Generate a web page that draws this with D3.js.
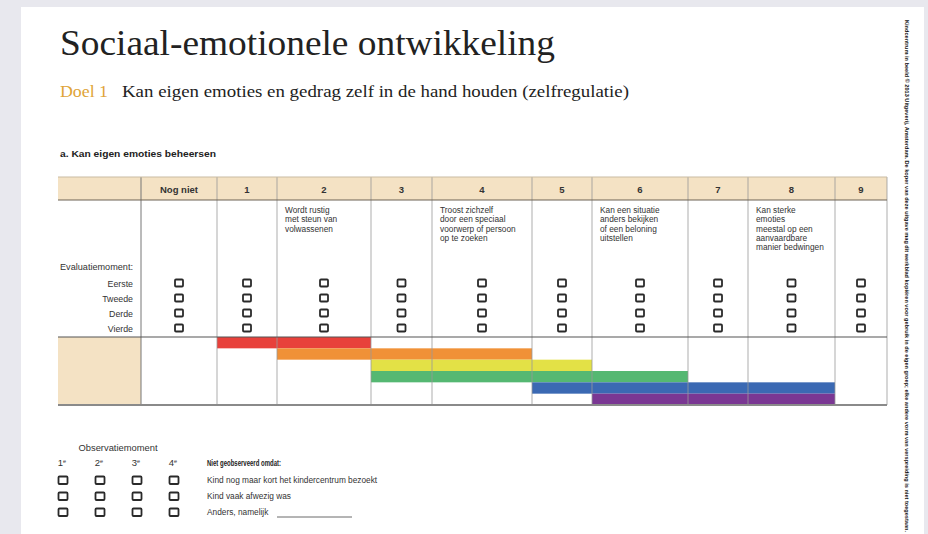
<!DOCTYPE html>
<html>
<head>
<meta charset="utf-8">
<script src="https://cdn.jsdelivr.net/npm/d3@7"></script>
<style>
  body { margin: 0; background: #e8e8ee; }
  svg { display: block; }
</style>
</head>
<body>
<div class="center"></div>
<script>
// chart data
const title = "Sociaal-emotionele ontwikkeling";
const goalLabel = "Doel 1";
const goalText = "Kan eigen emoties en gedrag zelf in de hand houden (zelfregulatie)";
const sectionLabel = "a. Kan eigen emoties beheersen";

const stages = ["Nog niet", "1", "2", "3", "4", "5", "6", "7", "8", "9"];
const descriptions = [
  [], [],
  ["Wordt rustig", "met steun van", "volwassenen"],
  [],
  ["Troost zichzelf", "door een speciaal", "voorwerp of persoon", "op te zoeken"],
  [],
  ["Kan een situatie", "anders bekijken", "of een beloning", "uitstellen"],
  [],
  ["Kan sterke", "emoties", "meestal op een", "aanvaardbare", "manier bedwingen"],
  []
];
const moments = ["Eerste", "Tweede", "Derde", "Vierde"];

// coloured range bars: first and last stage (inclusive)
const barStart = [1, 2, 3, 3, 5, 6];
const barEnd   = [2, 4, 5, 6, 8, 8];
const barColors = ["#e8413b", "#f09137", "#e3e146", "#55b872", "#3b69b3", "#7a3793"];

const obsMoments = ["1", "2", "3", "4"];
const reasons = ["Kind nog maar kort het kindercentrum bezoekt", "Kind vaak afwezig was", "Anders, namelijk"];

const sideNote = "Kindcentrum in beeld \u00a9 2013 Uitgeverij, Amsterdam. De koper van deze uitgave mag dit werkblad kopi\u00ebren voor gebruik in de eigen groep; elke andere vorm van verspreiding is niet toegestaan.";

// layout
const W = 928, H = 534;
const colEdges = [58, 141, 217, 277, 371, 432, 532, 592, 688, 748, 835, 887];
const headTop = 177, headBot = 200, bodyBot = 337, barBot = 405;
const narrow = "'Liberation Sans Narrow', 'Arial Narrow', 'Liberation Sans', sans-serif";
const serif = "'Liberation Serif', 'DejaVu Serif', serif";
const beige = "#f4e2c4";

// column edge index -1 .. 10 -> pixel
const xEdge = d3.scaleLinear()
  .domain(d3.range(-1, colEdges.length - 1))
  .range(colEdges);
const xMid = i => (xEdge(i) + xEdge(i + 1)) / 2;

const yMoment = d3.scalePoint().domain(moments).range([283, 328]);
const yLane = d3.scaleBand().domain(d3.range(barStart.length)).range([bodyBot, barBot]);

const svg = d3.select(".center").append("svg")
  .attr("width", W)
  .attr("height", H);

// page
svg.append("rect").attr("width", W).attr("height", H).attr("fill", "#e8e8ee");
svg.append("rect").attr("x", 21).attr("y", 7).attr("width", 903).attr("height", H - 7).attr("fill", "#fff");

// titles
svg.append("text")
  .attr("x", 60).attr("y", 55)
  .attr("textLength", 495).attr("lengthAdjust", "spacingAndGlyphs")
  .style("font-family", serif).style("font-size", "35px").style("fill", "#222")
  .text(title);

svg.append("text")
  .attr("x", 60).attr("y", 97)
  .attr("textLength", 48).attr("lengthAdjust", "spacingAndGlyphs")
  .style("font-family", serif).style("font-size", "17px").style("fill", "#e0a437")
  .text(goalLabel);

svg.append("text")
  .attr("x", 122).attr("y", 97)
  .attr("textLength", 507).attr("lengthAdjust", "spacingAndGlyphs")
  .style("font-family", serif).style("font-size", "17px").style("fill", "#222")
  .text(goalText);

svg.append("text")
  .attr("x", 60).attr("y", 157)
  .attr("textLength", 156).attr("lengthAdjust", "spacingAndGlyphs")
  .style("font-family", "'Liberation Sans', sans-serif").style("font-size", "8.5px")
  .style("font-weight", "700").style("fill", "#222")
  .text(sectionLabel);

// table backgrounds
const table = svg.append("g");
table.append("rect")
  .attr("x", xEdge(-1)).attr("y", headTop)
  .attr("width", xEdge(10) - xEdge(-1)).attr("height", headBot - headTop)
  .attr("fill", beige);
table.append("rect")
  .attr("x", xEdge(-1)).attr("y", bodyBot)
  .attr("width", xEdge(0) - xEdge(-1)).attr("height", barBot - bodyBot)
  .attr("fill", beige);

// bars
table.selectAll("rect.bar")
  .data(barStart)
  .enter().append("rect")
  .attr("class", "bar")
  .attr("x", d => xEdge(d))
  .attr("y", (d, i) => yLane(i))
  .attr("width", (d, i) => xEdge(barEnd[i] + 1) - xEdge(d))
  .attr("height", yLane.bandwidth())
  .attr("fill", (d, i) => barColors[i]);

// vertical dividers
table.selectAll("line.vdiv")
  .data(d3.range(0, stages.length + 1))
  .enter().append("line")
  .attr("class", "vdiv")
  .attr("x1", d => xEdge(d)).attr("x2", d => xEdge(d))
  .attr("y1", headTop).attr("y2", barBot)
  .attr("stroke", d => d === 0 ? "#777" : "#9a9a9a")
  .attr("stroke-opacity", d => d === 0 ? 1 : 0.8)
  .attr("stroke-width", 1);

// horizontal rules
const rules = [
  {y: headTop, c: "#c9bba2", w: 1},
  {y: headBot, c: "#6d6254", w: 1.2},
  {y: bodyBot, c: "#555", w: 1.2},
  {y: barBot, c: "#8a8a8a", w: 2}
];
table.selectAll("line.hrule")
  .data(rules)
  .enter().append("line")
  .attr("class", "hrule")
  .attr("x1", xEdge(-1)).attr("x2", xEdge(10))
  .attr("y1", d => d.y).attr("y2", d => d.y)
  .attr("stroke", d => d.c).attr("stroke-width", d => d.w);

// header labels
table.selectAll("text.head")
  .data(stages)
  .enter().append("text")
  .attr("class", "head")
  .attr("x", (d, i) => xMid(i))
  .attr("y", 193)
  .attr("text-anchor", "middle")
  .style("font-family", narrow).style("font-size", "9.5px").style("font-weight", "700")
  .style("fill", "#333")
  .text(d => d);

// descriptions
stages.forEach((s, i) => {
  table.selectAll(null)
    .data(descriptions[i])
    .enter().append("text")
    .attr("x", xEdge(i) + 8)
    .attr("y", (d, j) => 213 + j * 9.3)
    .style("font-family", narrow).style("font-size", "8.3px").style("fill", "#333")
    .text(d => d);
});

// row labels
table.append("text")
  .attr("x", 133).attr("y", 270)
  .attr("text-anchor", "end")
  .attr("textLength", 73).attr("lengthAdjust", "spacingAndGlyphs")
  .style("font-family", narrow).style("font-size", "9px").style("fill", "#333")
  .text("Evaluatiemoment:");

table.selectAll("text.moment")
  .data(moments)
  .enter().append("text")
  .attr("class", "moment")
  .attr("x", 133)
  .attr("y", d => yMoment(d) + 3.5)
  .attr("text-anchor", "end")
  .style("font-family", narrow).style("font-size", "8.8px").style("fill", "#333")
  .text(d => d);

// checkboxes
const boxes = [];
stages.forEach((s, i) => moments.forEach(m => boxes.push({i, m})));
table.selectAll("rect.box")
  .data(boxes)
  .enter().append("rect")
  .attr("class", "box")
  .attr("x", d => xMid(d.i) - 4)
  .attr("y", d => yMoment(d.m) - 3.5)
  .attr("width", 8).attr("height", 7).attr("rx", 1)
  .attr("fill", "#fff").attr("stroke", "#2a2a2a").attr("stroke-width", 1.8);

// observation block
const obs = svg.append("g");
const xObs = d3.scalePoint().domain(obsMoments).range([63, 174]);
const yObs = d3.scalePoint().domain(reasons).range([480, 512]);

obs.append("text")
  .attr("x", 118).attr("y", 451)
  .attr("text-anchor", "middle")
  .attr("textLength", 79).attr("lengthAdjust", "spacingAndGlyphs")
  .style("font-family", narrow).style("font-size", "9px").style("fill", "#333")
  .text("Observatiemoment");

const ord = obs.selectAll("text.ord")
  .data(obsMoments)
  .enter().append("text")
  .attr("class", "ord")
  .attr("x", d => xObs(d) - 1)
  .attr("y", 466)
  .attr("text-anchor", "middle")
  .style("font-family", narrow).style("font-size", "9.5px").style("fill", "#333");
ord.append("tspan").text(d => d);
ord.append("tspan").attr("dy", -3).style("font-size", "5.5px").text("e");

const obsBoxes = [];
reasons.forEach(r => obsMoments.forEach(m => obsBoxes.push({r, m})));
obs.selectAll("rect.obox")
  .data(obsBoxes)
  .enter().append("rect")
  .attr("class", "obox")
  .attr("x", d => xObs(d.m) - 4.5)
  .attr("y", d => yObs(d.r) - 3.5)
  .attr("width", 9).attr("height", 7.5).attr("rx", 1)
  .attr("fill", "#fff").attr("stroke", "#2a2a2a").attr("stroke-width", 1.8);

obs.append("text")
  .attr("x", 207).attr("y", 466)
  .attr("textLength", 74).attr("lengthAdjust", "spacingAndGlyphs")
  .style("font-family", narrow).style("font-size", "8.8px").style("font-weight", "700")
  .style("fill", "#222")
  .text("Niet geobserveerd omdat:");

obs.selectAll("text.reason")
  .data(reasons)
  .enter().append("text")
  .attr("class", "reason")
  .attr("x", 207)
  .attr("y", d => yObs(d) + 3)
  .style("font-family", narrow).style("font-size", "8.3px").style("fill", "#333")
  .text(d => d);

obs.append("line")
  .attr("x1", 277).attr("x2", 352)
  .attr("y1", 517).attr("y2", 517)
  .attr("stroke", "#444").attr("stroke-width", 0.8);

// side note on the right margin
svg.append("text")
  .attr("transform", "translate(905,20) rotate(90)")
  .attr("textLength", 512).attr("lengthAdjust", "spacingAndGlyphs")
  .style("font-family", narrow).style("font-size", "5px").style("font-weight", "700")
  .style("fill", "#111")
  .text(sideNote);
</script>
</body>
</html>
